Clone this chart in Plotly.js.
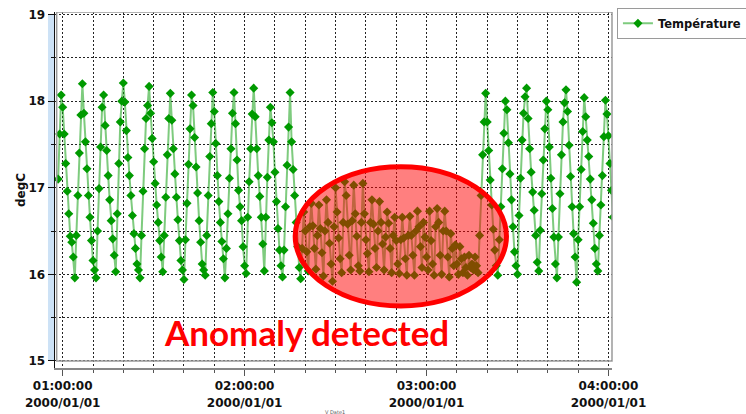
<!DOCTYPE html>
<html>
<head>
<meta charset="utf-8">
<script src="https://cdn.plot.ly/plotly-3.0.1.min.js"></script>
<style>html,body{margin:0;padding:0;background:#fff;}#chart{width:746px;height:414px;}</style>
</head>
<body>
<div id="chart"></div>
<script>
// ---- data ----
const seriesName = 'Température';
const startTime = '2000-01-01 00:58:30';   // first sample
const sampleSeconds = 30;                  // sampling interval

// normal oscillation, 00:58:30 - 02:18:30
const tempBefore = [
  17.10, 17.62,
  18.07, 17.93, 17.62, 17.28, 16.96, 16.70, 16.44, 16.37, 16.20, 15.96, 16.45, 16.91, 17.40, 17.84,
  18.20, 17.86, 17.53, 17.22, 16.91, 16.66, 16.39, 16.16, 16.05, 15.96, 16.50, 16.99, 17.47, 17.93,
  18.07, 17.72, 17.43, 17.14, 16.86, 16.62, 16.41, 16.22, 16.03, 16.70, 17.28, 17.76, 18.00,
  18.21, 17.99, 17.66, 17.35, 17.14, 16.91, 16.68, 16.47, 16.30, 16.12, 16.05, 15.96, 16.45, 16.96, 17.45, 17.80, 17.95,
  18.17, 17.86, 17.57, 17.30, 17.05, 16.80, 16.60, 16.39, 16.20, 16.03, 16.45, 16.89, 17.38, 17.80,
  18.09, 17.78, 17.45, 17.16, 16.89, 16.63, 16.39, 16.16, 16.05, 15.94, 16.40, 16.82, 17.27, 17.68,
  18.07, 17.95, 17.58, 17.24, 16.94, 16.62, 16.37, 16.12, 16.05, 15.99, 16.45, 16.91, 17.36, 17.74,
  18.10, 17.88, 17.51, 17.14, 16.84, 16.60, 16.38, 16.18, 15.96, 16.30, 16.70, 17.11, 17.45, 17.86,
  18.10, 17.74, 17.32, 16.97, 16.78, 16.62, 16.32, 16.10, 16.01, 16.66, 17.07, 17.45, 17.85,
  18.15, 17.82, 17.45, 17.14, 16.90, 16.66, 16.35, 16.04, 16.66, 17.12, 17.55,
  17.93, 17.75, 17.53, 17.18, 16.84, 16.53, 16.28, 16.10, 15.97, 16.28, 16.78, 17.26, 17.70,
  18.10, 17.53, 17.21, 16.91, 16.60, 16.32, 16.08, 15.95
];

// anomalous segment, 02:19:00 - 03:17:00
const tempAnomaly = [
  16.30, 16.72, 16.50, 16.26, 16.04,
  16.55, 16.82, 16.56, 16.30, 16.06,
  16.45, 16.80, 16.53, 16.25, 15.98,
  16.50, 16.86, 16.60, 16.36, 16.12, 15.92,
  16.55, 17.00, 16.72, 16.42, 16.18, 16.02,
  16.60, 17.07, 16.91, 16.58, 16.22, 16.05,
  16.62, 17.03, 16.70, 16.44, 16.10, 16.04,
  16.60, 17.05, 16.70, 16.40, 16.24, 16.03,
  16.60, 16.86, 16.58, 16.30, 16.08,
  16.50, 16.84, 16.60, 16.35, 16.05,
  16.43, 16.72, 16.59, 16.30, 16.02,
  16.45, 16.66, 16.39, 16.12, 16.01,
  16.40, 16.66, 16.42, 16.18, 15.99,
  16.45, 16.67, 16.45, 16.22, 15.99,
  16.50, 16.73, 16.55, 16.32, 16.08,
  16.60, 16.43, 16.20, 16.05,
  16.73, 16.39, 16.12, 15.99,
  16.55, 16.76, 16.60, 16.22, 16.00,
  16.50, 16.73, 16.50, 16.20, 15.97,
  16.47, 16.30, 16.10,
  16.34, 16.12, 16.00,
  16.32, 16.18, 16.02,
  16.20, 16.08, 15.99,
  16.22, 16.08, 16.12, 16.05, 16.20, 16.10, 16.02
];

// back to normal, 03:17:30 - 04:01:30
const tempAfter = [
  16.45, 16.91, 17.38, 17.76,
  18.09, 17.76, 17.43, 17.09, 16.80, 16.52, 16.28, 16.10, 15.99, 16.40, 16.78, 17.22, 17.63,
  18.00, 17.90, 17.52, 17.16, 16.86, 16.55, 16.26, 16.10, 16.00, 16.68, 17.11, 17.55, 17.86, 18.05,
  18.15, 17.80, 17.45, 17.18, 16.95, 16.74, 16.45, 16.14, 16.04, 16.51, 16.93, 17.32, 17.68,
  18.00, 17.90, 17.47, 17.11, 16.76, 16.43, 16.12, 15.96, 16.43, 16.93, 17.38, 17.76, 17.98,
  18.13, 17.88, 17.49, 17.13, 16.78, 16.47, 16.20, 15.91, 16.40, 16.78, 17.21, 17.65,
  18.04, 17.82, 17.55, 17.36, 17.10, 16.86, 16.59, 16.30, 16.12, 16.04, 16.45, 16.80, 17.14, 17.59,
  18.01, 17.85, 17.60, 17.28, 16.97, 16.66
];

const tickTimes = ['2000-01-01 01:00:00', '2000-01-01 02:00:00', '2000-01-01 03:00:00', '2000-01-01 04:00:00'];
const tickTimeLabels = ['01:00:00', '02:00:00', '03:00:00', '04:00:00'];
const tickDateLabels = ['2000/01/01', '2000/01/01', '2000/01/01', '2000/01/01'];
const yTicks = [15, 16, 17, 18, 19];
const yTitle = 'degC';
const anomalyText = 'Anomaly detected';

// ---- build ----
function pad(n){ return (n < 10 ? '0' : '') + n; }
function fmt(ms){
  const d = new Date(ms);
  return d.getUTCFullYear() + '-' + pad(d.getUTCMonth()+1) + '-' + pad(d.getUTCDate()) + ' ' +
         pad(d.getUTCHours()) + ':' + pad(d.getUTCMinutes()) + ':' + pad(d.getUTCSeconds());
}
function parse(s){
  const m = s.match(/(\d+)-(\d+)-(\d+) (\d+):(\d+):(\d+)/);
  return Date.UTC(+m[1], +m[2]-1, +m[3], +m[4], +m[5], +m[6]);
}
const temps = tempBefore.concat(tempAnomaly, tempAfter);
const t0 = parse(startTime);
const times = temps.map((_, i) => fmt(t0 + i * sampleSeconds * 1000));

const xRange = ['2000-01-01 00:57:28', '2000-01-01 04:01:10'];
const yRange = [14.919, 19.029];
const bold = {family: 'DejaVu Sans', size: 12, color: '#111', weight: 'bold'};
const gridDash = '2px,2px';

const trace = {
  type: 'scatter', mode: 'lines+markers', name: seriesName,
  x: times, y: temps,
  line: {color: 'rgba(20,160,20,0.55)', width: 2},
  marker: {symbol: 'diamond', size: 7, color: '#009a00', line: {width: 0}},
  hoverinfo: 'skip'
};
const dateTrace = {type: 'scatter', x: [], y: [], xaxis: 'x2', yaxis: 'y', showlegend: false, hoverinfo: 'skip'};

const layout = {
  width: 746, height: 414,
  margin: {l: 55, r: 134, t: 12, b: 46, autoexpand: false},
  paper_bgcolor: '#fff', plot_bgcolor: '#fff',
  showlegend: true,
  legend: {xref: 'container', yref: 'container', x: 0.827, y: 0.981, xanchor: 'left', yanchor: 'top',
           bordercolor: '#9a9a9a', borderwidth: 1, bgcolor: '#fff',
           font: {family: 'DejaVu Sans', size: 11.5, color: '#111', weight: 'bold'}},
  xaxis: {
    type: 'date', range: xRange,
    tickmode: 'array', tickvals: tickTimes, ticktext: tickTimeLabels,
    tickfont: bold,
    ticks: 'outside', ticklen: 6, tickcolor: '#555', tickwidth: 1,
    showgrid: true, gridcolor: '#222', griddash: gridDash, gridwidth: 1,
    minor: {tick0: '2000-01-01 01:00:00', dtick: 600000, showgrid: true, gridcolor: '#222',
            griddash: gridDash, gridwidth: 1, ticks: 'outside', ticklen: 3, tickcolor: '#555'},
    showline: true, linecolor: '#888', linewidth: 1.5,
    zeroline: false, fixedrange: true
  },
  xaxis2: {
    type: 'date', range: xRange, overlaying: 'x', anchor: 'y', side: 'bottom',
    tickmode: 'array', tickvals: tickTimes, ticktext: tickDateLabels,
    tickfont: bold, ticks: 'outside', ticklen: 24, tickcolor: 'rgba(0,0,0,0)',
    showgrid: false, showline: false, zeroline: false, fixedrange: true
  },
  yaxis: {
    range: yRange, tickmode: 'array', tickvals: yTicks,
    tickfont: bold,
    ticks: 'outside', ticklen: 6, tickcolor: '#111', tickwidth: 1,
    showgrid: true, gridcolor: '#222', griddash: gridDash, gridwidth: 1,
    minor: {dtick: 0.5, tick0: 15, showgrid: true, gridcolor: '#222', griddash: gridDash,
            gridwidth: 1, ticks: 'outside', ticklen: 3, tickcolor: '#111'},
    showline: true, linecolor: '#111', linewidth: 1.5,
    zeroline: false, fixedrange: true,
    title: {text: yTitle, font: bold, standoff: 0}
  },
  shapes: [
    {type: 'rect', xref: 'paper', yref: 'y', x0: 0.002, x1: 1, y0: yRange[0], y1: 14.985,
     fillcolor: '#fff', line: {width: 0}, layer: 'between'},
    {type: 'rect', xref: 'paper', yref: 'y', x0: -0.0126, x1: -0.0018, y0: 15, y1: 19,
     fillcolor: '#cde2f6', line: {width: 0}, layer: 'below'},
    {type: 'rect', xref: 'paper', yref: 'y', x0: 0.003, x1: 1, y0: 15, y1: yRange[1],
     fillcolor: 'rgba(0,0,0,0)', line: {color: '#9a9a9a', width: 1.5}, layer: 'above'},
    {type: 'circle', xref: 'x', yref: 'y',
     x0: '2000-01-01 02:16:41', x1: '2000-01-01 03:26:22', y0: 15.636, y1: 17.243,
     fillcolor: 'rgba(255,0,0,0.5)', line: {color: '#ff0000', width: 5}, layer: 'above'}
  ],
  annotations: [
    {text: anomalyText, xref: 'x', yref: 'y', x: '2000-01-01 02:20:18', y: 15.33,
     xanchor: 'center', yanchor: 'middle', showarrow: false,
     font: {family: 'Lato', size: 35, color: '#ff0000', weight: 'bold'}},
    {text: 'V Date1', xref: 'paper', yref: 'paper', x: 0.503, y: -0.124,
     xanchor: 'center', yanchor: 'middle', showarrow: false,
     font: {family: 'DejaVu Sans', size: 5, color: '#555'}}
  ]
};

Plotly.newPlot('chart', [trace, dateTrace], layout, {displayModeBar: false, staticPlot: true});
</script>
</body>
</html>
